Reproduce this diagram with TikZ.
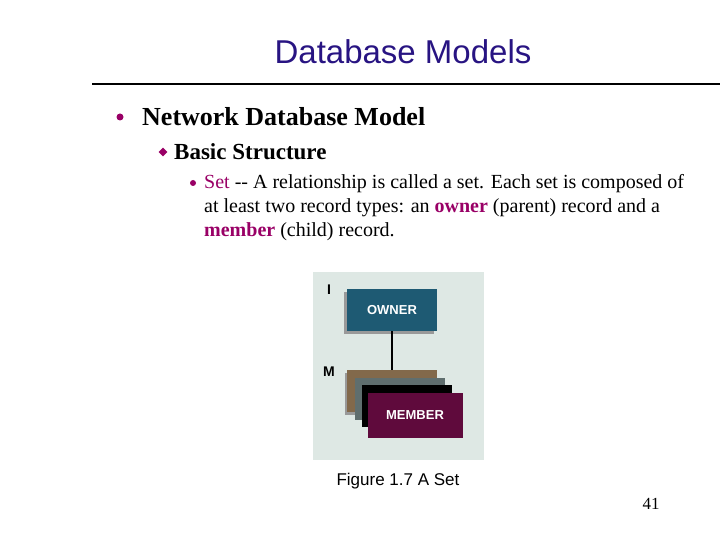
\documentclass[tikz,border=0pt]{standalone}
\usepackage{fontspec}
\setmainfont{Liberation Serif}
\newfontfamily\sansfont{Liberation Sans}
\usetikzlibrary{positioning,shapes.geometric}
\definecolor{titlecol}{RGB}{40,20,130}
\definecolor{keycol}{RGB}{153,0,102}
\definecolor{figbg}{RGB}{222,232,228}
\definecolor{ownercol}{RGB}{30,90,115}
\definecolor{browncol}{RGB}{130,105,75}
\definecolor{graycol}{RGB}{95,110,110}
\definecolor{membercol}{RGB}{95,10,60}
\begin{document}
\begin{tikzpicture}[x=1pt,y=-1pt,
    rec/.style={draw=none, minimum width=90pt, minimum height=42pt, inner sep=0,
      text=white, font=\sansfont\bfseries\fontsize{13}{15}\selectfont},
    bul/.style={circle, fill=keycol, inner sep=0, minimum size=7pt}
  ]
  \useasboundingbox (0,0) rectangle (720,540);
  \node[font=\sansfont\fontsize{33}{36}\selectfont, text=titlecol] (title) at (403,52) {Database Models};
  \draw[line width=1.2pt] (92,84) -- (720,84);
  \node[bul] (b1) at (120,117) {};
  \node[anchor=west, inner sep=0, font=\fontsize{26}{28}\selectfont\bfseries] (l1) at (142,117) {Network Database Model};
  \node[diamond, fill=keycol, inner sep=0, minimum size=9pt] (b2) at (163,152) {};
  \node[anchor=west, inner sep=0, font=\fontsize{23}{26}\selectfont\bfseries] (l2) at (174,152) {Basic Structure};
  \node[circle, fill=keycol, inner sep=0, minimum size=6pt] (b3) at (193,183) {};
  \node[anchor=north west, align=left, inner sep=0, font=\fontsize{20}{24}\selectfont] (txt) at (204,174)
    {\textcolor{keycol}{Set} {-}{-} A relationship is called a set. Each set is composed of\\
     at least two record types: an \textcolor{keycol}{\bfseries owner} (parent) record and a\\
     \textcolor{keycol}{\bfseries member} (child) record.};
  % figure
  \fill[figbg] (313,272) rectangle (484,460);
  \fill[black!40] (344,292) rectangle (434,334);
  \node[rec, fill=ownercol] (owner) at (392,310) {OWNER};
  \node[font=\sansfont\bfseries\fontsize{14}{16}\selectfont] (one) at (329,290) {I};
  \node[font=\sansfont\bfseries\fontsize{14}{16}\selectfont] (many) at (329,372) {M};
  \fill[black!40] (345,373) rectangle (435,415);
  \node[rec, fill=browncol] (m1) at (392,391) {};
  \node[rec, fill=graycol] (m2) at (400,399) {};
  \node[rec, fill=black] (m3) at (407,406) {};
  \node[rec, fill=membercol, minimum width=95pt, minimum height=45pt] (member) at (415,415) {MEMBER};
  \draw[line width=1.5pt] (owner.south) -- (m1.north -| owner.south);
  \node[font=\sansfont\fontsize{17}{19}\selectfont] (cap) at (398,481) {Figure 1.7 A Set};
  \node[font=\fontsize{17}{19}\selectfont] (page) at (651,504) {41};
\end{tikzpicture}
\end{document}
